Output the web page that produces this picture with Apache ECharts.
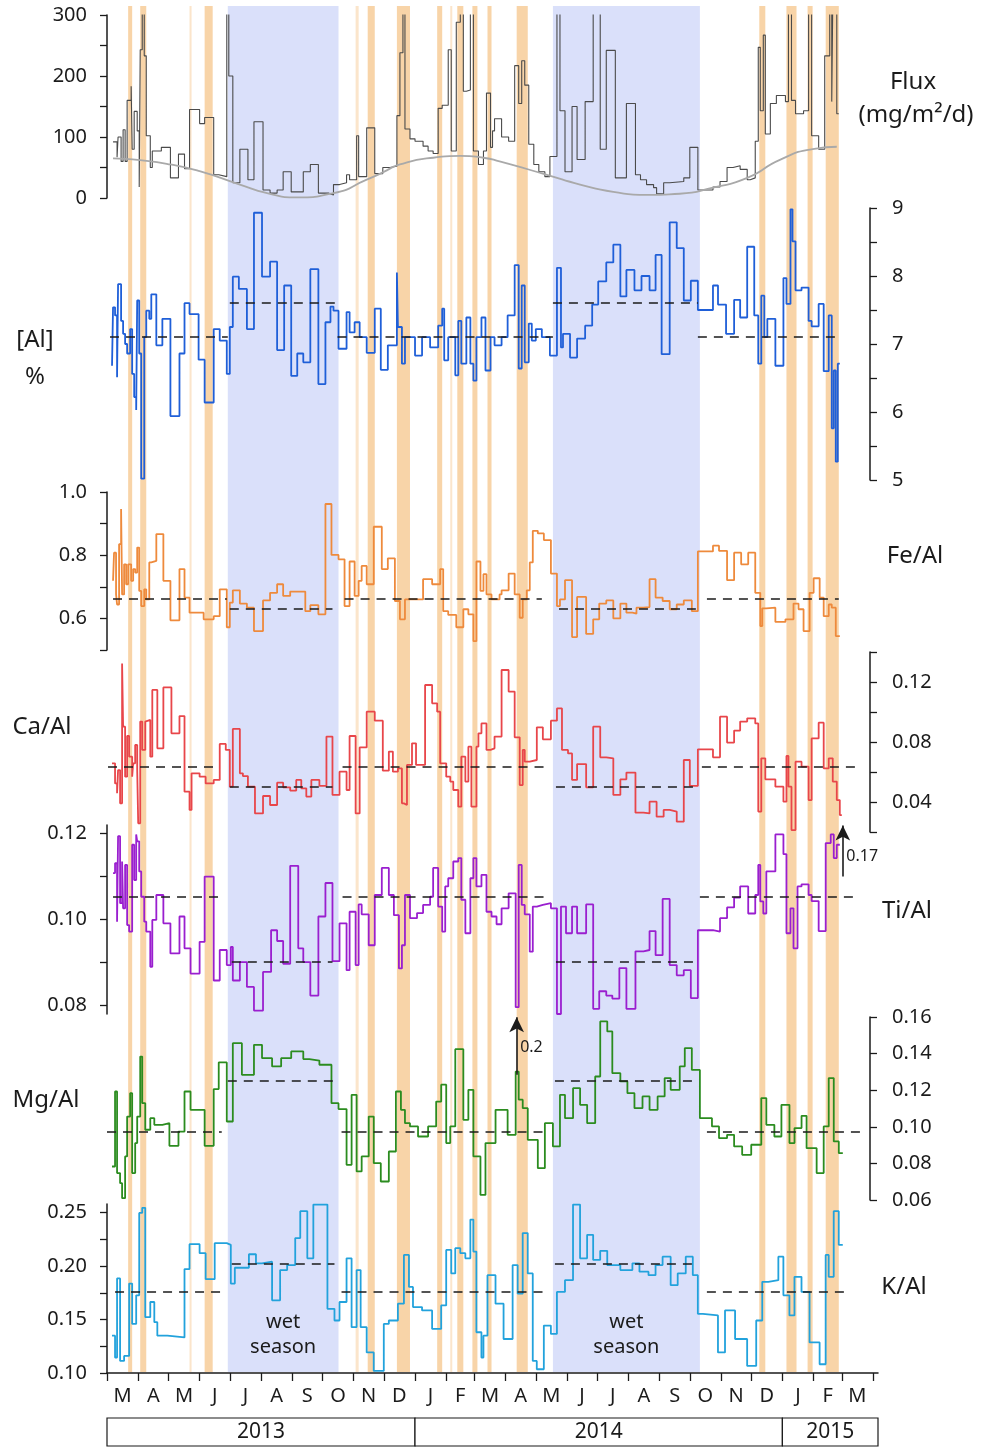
<!DOCTYPE html>
<html>
<head>
<meta charset="utf-8">
<script src="https://cdn.jsdelivr.net/npm/echarts@6/dist/echarts.min.js"></script>
<style>
  html, body { margin: 0; padding: 0; background: #fff; }
  #main { width: 982px; height: 1448px; }
</style>
</head>
<body>
<div id="main"></div>
<script>
// x values are days counted from 1 March 2013; each point holds its value until the next one
const fluxData = [[6,92],[10,67],[11,100],[14,60],[16,112],[18,60],[20,160],[24,183],[25,80],[27,142],[30,110],[32,18],[33,243],[35,320],[37,233],[39,102],[43,50],[45,77],[54,83],[63,33],[71,72],[77,48],[82,145],[92,122],[97,132],[106,38],[111,35],[119,320],[121,200],[125,25],[132,80],[140,30],[146,125],[155,13],[162,8],[169,13],[175,43],[183,10],[195,43],[202,55],[210,8],[220,5],[225,22],[231,25],[238,38],[241,30],[248,102],[250,35],[258,115],[266,40],[274,50],[281,52],[288,135],[291,238],[294,320],[296,113],[301,97],[306,93],[314,85],[319,77],[324,73],[329,147],[333,152],[339,243],[342,77],[347,288],[351,320],[354,175],[357,177],[361,320],[364,77],[369,55],[374,77],[377,172],[381,83],[383,110],[385,130],[392,100],[399,93],[405,217],[409,155],[412,225],[415,185],[419,88],[424,55],[429,43],[435,35],[440,68],[447,320],[450,143],[455,43],[462,150],[467,63],[475,158],[483,320],[490,80],[496,242],[505,33],[516,155],[525,38],[530,30],[536,22],[543,17],[546,7],[553,25],[559,27],[573,33],[579,83],[587,13],[602,18],[609,27],[616,50],[622,53],[629,47],[636,30],[639,33],[644,93],[647,247],[649,143],[652,267],[654,105],[659,155],[665,168],[674,158],[677,320],[680,160],[684,138],[692,143],[697,320],[700,102],[707,80],[713,233],[718,320],[720,158],[721,320],[725,138],[727,138]];
const fluxTrend = [[6,65],[33,62],[63,55],[92,44],[132,22],[159,8],[189,1],[225,8],[258,30],[274,42],[291,55],[324,66],[351,69],[374,66],[390,60],[437,38],[470,22],[503,10],[536,5],[569,7],[602,17],[636,33],[669,63],[701,80],[725,84]];

const alData = [[5,6.68],[6,7.54],[8,7.42],[10,6.51],[11,7.88],[14,7.34],[16,7.15],[18,7.0],[20,6.86],[23,7.22],[25,6.56],[27,6.22],[29,6.03],[30,7.64],[32,6.86],[34,5.02],[37,7.1],[39,7.49],[42,7.37],[44,7.73],[49,6.98],[55,7.37],[63,5.94],[72,6.86],[77,7.6],[82,7.44],[91,6.77],[97,6.14],[106,7.22],[112,7.05],[119,6.56],[122,7.25],[125,7.99],[131,7.81],[139,7.22],[146,8.93],[154,7.99],[162,8.21],[169,6.91],[176,7.86],[183,6.53],[189,6.86],[195,6.73],[202,8.1],[210,6.41],[217,7.32],[222,7.55],[225,7.49],[230,6.93],[238,7.47],[241,7.17],[246,7.32],[251,7.1],[258,6.87],[266,7.52],[272,6.62],[279,6.98],[288,8.05],[289,7.25],[293,6.71],[296,7.1],[306,6.83],[313,7.1],[321,6.95],[329,7.27],[333,7.52],[335,6.76],[339,7.1],[346,6.54],[349,7.34],[352,6.71],[357,7.39],[361,6.71],[364,6.46],[367,7.1],[372,7.39],[376,6.61],[381,7.1],[385,6.98],[392,7.1],[398,7.42],[405,8.16],[409,6.64],[412,7.86],[415,6.73],[419,7.3],[422,7.05],[426,7.22],[432,7.1],[440,6.83],[447,8.12],[451,6.95],[453,7.15],[460,6.8],[467,7.08],[475,7.27],[482,7.58],[488,7.92],[496,8.2],[503,8.46],[510,7.7],[516,8.09],[524,7.79],[531,8.0],[539,7.79],[545,8.31],[551,6.85],[559,8.79],[566,8.41],[573,7.64],[580,7.93],[587,7.5],[602,7.86],[607,7.58],[615,7.15],[623,7.65],[629,7.39],[636,8.43],[643,7.42],[647,6.71],[650,7.71],[653,7.1],[656,7.37],[664,6.68],[672,7.97],[675,7.59],[679,8.98],[681,8.51],[684,7.79],[690,7.83],[697,7.34],[700,7.26],[707,7.59],[712,6.6],[717,7.42],[720,5.76],[722,6.61],[724,5.27],[726,6.71],[728,6.71]];

const feData = [[6,0.719],[7,0.808],[9,0.676],[10,0.644],[12,0.835],[14,0.946],[15,0.676],[17,0.771],[19,0.708],[21,0.771],[24,0.719],[26,0.756],[28,0.745],[30,0.824],[32,0.687],[34,0.639],[37,0.692],[39,0.66],[42,0.777],[44,0.782],[49,0.867],[56,0.719],[63,0.594],[72,0.756],[77,0.666],[82,0.618],[96,0.597],[106,0.607],[112,0.692],[119,0.572],[122,0.65],[125,0.689],[132,0.647],[139,0.634],[146,0.56],[155,0.657],[162,0.681],[169,0.708],[175,0.671],[182,0.685],[197,0.623],[202,0.642],[210,0.613],[217,0.962],[223,0.801],[230,0.787],[236,0.639],[241,0.78],[246,0.671],[250,0.719],[253,0.766],[258,0.708],[265,0.89],[273,0.756],[279,0.79],[286,0.655],[291,0.597],[296,0.66],[314,0.724],[323,0.708],[331,0.756],[334,0.623],[339,0.611],[347,0.572],[354,0.629],[359,0.613],[364,0.528],[367,0.78],[371,0.687],[374,0.74],[377,0.676],[382,0.66],[390,0.676],[392,0.689],[399,0.742],[405,0.676],[410,0.602],[413,0.66],[417,0.689],[420,0.777],[423,0.877],[428,0.869],[434,0.848],[441,0.742],[447,0.639],[450,0.66],[455,0.721],[462,0.541],[467,0.668],[476,0.551],[483,0.597],[489,0.647],[496,0.657],[503,0.6],[510,0.647],[516,0.618],[522,0.615],[526,0.634],[533,0.636],[539,0.724],[545,0.666],[552,0.655],[559,0.629],[566,0.644],[573,0.657],[581,0.623],[587,0.812],[602,0.83],[608,0.814],[616,0.721],[623,0.808],[630,0.771],[637,0.808],[644,0.681],[649,0.576],[651,0.632],[655,0.634],[664,0.589],[674,0.597],[682,0.647],[687,0.629],[692,0.56],[698,0.681],[702,0.727],[708,0.666],[712,0.607],[717,0.644],[720,0.634],[724,0.544],[728,0.544]];

const caData = [[5,0.0658],[8,0.0524],[10,0.0458],[11,0.0613],[13,0.0391],[15,0.1324],[16,0.0902],[18,0.0569],[20,0.084],[22,0.0702],[25,0.0569],[26,0.0658],[28,0.078],[30,0.0613],[31,0.0258],[33,0.0936],[35,0.0747],[38,0.0936],[39,0.0947],[43,0.0702],[45,0.1147],[50,0.0758],[56,0.1164],[64,0.0858],[72,0.0973],[77,0.0469],[82,0.0347],[84,0.0591],[92,0.0569],[98,0.0524],[106,0.0547],[112,0.0787],[118,0.0747],[122,0.0502],[125,0.0887],[132,0.0591],[135,0.0573],[140,0.0502],[147,0.0324],[155,0.044],[162,0.038],[169,0.0529],[175,0.0498],[182,0.0476],[188,0.0547],[193,0.0491],[198,0.0436],[203,0.0547],[211,0.0507],[218,0.0836],[224,0.0447],[231,0.0602],[238,0.048],[241,0.084],[247,0.0324],[251,0.0764],[258,0.1002],[266,0.0942],[274,0.0609],[280,0.0736],[284,0.0602],[289,0.0624],[293,0.0391],[295,0.038],[298,0.0647],[303,0.0791],[307,0.0647],[316,0.118],[323,0.1058],[328,0.1002],[331,0.0658],[337,0.0569],[341,0.0536],[344,0.048],[349,0.0369],[352,0.0702],[356,0.0536],[359,0.0769],[362,0.0369],[367,0.0769],[369,0.0858],[372,0.0924],[377,0.0747],[381,0.0758],[385,0.0836],[392,0.128],[399,0.1136],[405,0.0831],[410,0.0513],[413,0.0747],[415,0.0669],[420,0.068],[427,0.0898],[433,0.0818],[441,0.0942],[447,0.1024],[452,0.0747],[458,0.0724],[462,0.0547],[467,0.0653],[476,0.0498],[483,0.0902],[490,0.0698],[496,0.0691],[503,0.0447],[510,0.0551],[516,0.0596],[525,0.0329],[533,0.0324],[539,0.0402],[546,0.0302],[553,0.0347],[559,0.0336],[566,0.0269],[573,0.068],[579,0.0507],[587,0.0751],[602,0.0698],[609,0.0969],[616,0.0796],[623,0.0876],[629,0.0936],[636,0.0958],[644,0.0924],[647,0.0336],[650,0.0691],[654,0.0551],[664,0.0502],[672,0.0402],[675,0.0707],[677,0.0502],[680,0.0213],[684,0.0669],[690,0.0636],[697,0.0413],[700,0.0824],[707,0.0929],[712,0.0624],[717,0.0691],[721,0.0536],[725,0.0413],[728,0.0313],[730,0.0313]];

const tiData = [[6,0.1108],[8,0.1131],[10,0.0995],[11,0.1194],[13,0.1038],[15,0.1135],[16,0.1026],[18,0.1127],[20,0.0987],[22,0.0972],[25,0.1174],[27,0.1092],[29,0.1198],[30,0.1182],[32,0.1112],[34,0.1053],[37,0.0995],[39,0.0972],[43,0.089],[45,0.0999],[49,0.1057],[56,0.0991],[63,0.0921],[72,0.1007],[77,0.0933],[83,0.0874],[92,0.0948],[97,0.11],[106,0.0858],[112,0.0929],[119,0.0894],[123,0.0936],[125,0.0858],[132,0.0901],[139,0.0843],[146,0.0788],[155,0.0878],[163,0.0975],[169,0.095],[175,0.0897],[182,0.1125],[190,0.0933],[195,0.0901],[202,0.0823],[210,0.1007],[217,0.1085],[224,0.0903],[231,0.0991],[238,0.0882],[241,0.1018],[247,0.0894],[250,0.1035],[253,0.1012],[260,0.094],[266,0.1057],[273,0.112],[280,0.1057],[285,0.101],[290,0.0886],[293,0.094],[296,0.1057],[301,0.1003],[308,0.1015],[314,0.1034],[321,0.1053],[324,0.112],[329,0.103],[333,0.0972],[336,0.1077],[339,0.1096],[344,0.1135],[349,0.1143],[352,0.1046],[356,0.0968],[361,0.1096],[364,0.1143],[367,0.1077],[372,0.1104],[377,0.1018],[382,0.1007],[387,0.0989],[392,0.1026],[399,0.1061],[406,0.0796],[409,0.1127],[412,0.1034],[415,0.1012],[420,0.0925],[423,0.103],[427,0.1034],[433,0.1038],[441,0.1026],[447,0.078],[451,0.103],[456,0.0968],[462,0.103],[467,0.0968],[476,0.1035],[483,0.0792],[489,0.0833],[496,0.0823],[502,0.0816],[509,0.0887],[516,0.0792],[525,0.0926],[533,0.0929],[539,0.0973],[545,0.0917],[552,0.1048],[559,0.0894],[566,0.087],[573,0.0882],[580,0.0817],[587,0.0975],[602,0.0972],[609,0.1003],[616,0.1028],[623,0.1051],[629,0.1077],[637,0.1014],[644,0.1057],[647,0.1127],[649,0.1042],[652,0.1014],[655,0.1112],[664,0.1198],[672,0.1152],[675,0.0968],[679,0.1026],[682,0.0933],[686,0.1077],[690,0.1082],[697,0.1057],[700,0.1043],[707,0.0973],[714,0.1178],[719,0.1198],[722,0.1143],[725,0.1174],[728,0.1174]];

const mgData = [[5,0.0783],[8,0.1193],[10,0.0747],[13,0.0692],[15,0.061],[18,0.0838],[20,0.1056],[23,0.1184],[25,0.0747],[28,0.0911],[30,0.1056],[33,0.1384],[35,0.1129],[38,0.0984],[43,0.1047],[47,0.1011],[55,0.102],[62,0.0896],[71,0.0974],[77,0.1193],[83,0.1093],[97,0.0896],[106,0.1206],[111,0.1352],[119,0.1029],[125,0.1457],[134,0.1284],[146,0.1448],[154,0.1375],[164,0.133],[173,0.1375],[183,0.1412],[195,0.137],[201,0.1362],[211,0.1339],[223,0.1129],[230,0.1097],[238,0.0792],[243,0.1175],[248,0.0756],[253,0.0838],[260,0.1056],[265,0.0801],[272,0.0701],[280,0.0865],[287,0.1193],[292,0.1093],[296,0.102],[301,0.1002],[309,0.0947],[319,0.1002],[327,0.1138],[332,0.123],[337,0.0911],[341,0.1002],[346,0.1424],[354,0.1038],[359,0.1202],[364,0.0838],[371,0.0628],[376,0.0911],[386,0.1093],[398,0.0956],[406,0.1302],[409,0.1148],[413,0.1102],[418,0.0929],[428,0.0774],[435,0.102],[443,0.0893],[450,0.1175],[455,0.1047],[463,0.1211],[470,0.112],[477,0.102],[485,0.1275],[490,0.1576],[497,0.1521],[502,0.1293],[510,0.1248],[517,0.1184],[524,0.1102],[532,0.1166],[539,0.1093],[547,0.1166],[554,0.1266],[560,0.1202],[569,0.133],[574,0.143],[581,0.1311],[589,0.1047],[601,0.1002],[608,0.0938],[616,0.0956],[623,0.0893],[631,0.0847],[640,0.0902],[650,0.1157],[655,0.1011],[663,0.0947],[670,0.112],[678,0.0911],[683,0.0993],[690,0.106],[695,0.0883],[705,0.0747],[712,0.1002],[717,0.1266],[722,0.092],[727,0.0856],[731,0.0856]];

const kData = [[5,0.1349],[8,0.1145],[10,0.1884],[13,0.1113],[17,0.116],[22,0.1836],[25,0.1459],[29,0.1726],[32,0.2497],[35,0.2544],[38,0.1522],[43,0.1664],[47,0.1475],[50,0.1349],[60,0.1333],[77,0.1972],[82,0.2204],[92,0.212],[98,0.1877],[107,0.2214],[119,0.2198],[123,0.1836],[127,0.1984],[141,0.211],[148,0.2025],[154,0.2041],[164,0.1679],[172,0.1962],[179,0.2009],[187,0.2261],[192,0.2513],[199,0.2072],[205,0.2575],[219,0.16],[226,0.1491],[231,0.1664],[238,0.2072],[243,0.1428],[248,0.1962],[252,0.1428],[258,0.1192],[265,0.1019],[275,0.1459],[280,0.1491],[289,0.1648],[295,0.2104],[300,0.1805],[304,0.1616],[313,0.1585],[323,0.1412],[332,0.1632],[337,0.2151],[342,0.1931],[346,0.2167],[351,0.212],[356,0.2072],[361,0.2434],[364,0.2135],[367,0.1381],[372,0.1145],[374,0.1349],[378,0.1915],[386,0.1648],[394,0.1318],[403,0.2009],[408,0.1742],[413,0.2308],[418,0.1931],[423,0.1113],[427,0.1035],[434,0.1443],[441,0.1365],[447,0.1758],[455,0.1868],[463,0.2575],[470,0.2072],[477,0.2292],[483,0.2057],[490,0.2142],[497,0.2009],[510,0.1962],[522,0.2025],[529,0.1947],[538,0.1915],[545,0.2009],[552,0.2088],[560,0.1821],[567,0.1931],[575,0.2088],[582,0.1915],[587,0.1553],[592,0.1538],[607,0.1192],[614,0.1585],[624,0.1318],[636,0.1066],[645,0.1491],[651,0.1852],[657,0.1868],[667,0.2088],[672,0.1726],[678,0.1538],[683,0.1899],[690,0.1758],[698,0.1286],[708,0.1082],[714,0.2104],[717,0.1899],[722,0.2513],[727,0.2198],[731,0.2198]];

// season means: [from day, to day, value]
const alMeans = [[3,120,7.1],[122,229,7.6],[229,443,7.1],[443,587,7.6],[587,727,7.1]];
const feMeans = [[6,119,0.663],[122,224,0.632],[236,432,0.663],[449,585,0.632],[596,727,0.663]];
const caMeans = [[1,112,0.0635],[122,224,0.050],[234,437,0.0635],[446,586,0.050],[591,748,0.0635]];
const tiMeans = [[6,114,0.1053],[124,224,0.0901],[234,437,0.1053],[446,587,0.0901],[589,745,0.1053]];
const mgMeans = [[0,114,0.0974],[120,225,0.1251],[233,438,0.0974],[445,586,0.1251],[596,752,0.0974]];
const kMeans = [[8,116,0.1758],[124,226,0.2025],[233,438,0.1758],[445,586,0.2025],[596,737,0.1758]];

const wetSeasons = [[120,230],[443,589]];
const rainEvents = [[21,25],[33,39],[82,84],[97,105],[247,250],[259,266],[288,301],[328,333],[341,343],[348,354],[363,368],[378,382],[407,418],[648,654],[675,685],[696,701],[714,727]];

const monthLetters = ['M','A','M','J','J','A','S','O','N','D','J','F','M','A','M','J','J','A','S','O','N','D','J','F','M'];
const yearNames = ['2013', '2014', '2015'];
const yearStarts = [0, 306, 671, 766];

const FONT = 'Noto Sans';
const INK = '#1b1b1b';
const BLUE_BAND = '#dae0fa';
const ORANGE_BAND = '#f8d4a8';

const t0 = Date.UTC(2013, 2, 1);
const monthStarts = [];
for (let i = 0; i <= monthLetters.length; i++) {
  monthStarts.push((Date.UTC(2013, 2 + i, 1) - t0) / 864e5);
}
const monthMids = monthLetters.map((m, i) => (monthStarts[i] + monthStarts[i + 1]) / 2);

let myChart = echarts.init(document.getElementById('main'), null, { renderer: 'canvas' });

const LEFT = 107, WIDTH = 763, XMAX = 758;
const grids = [
  { left: LEFT, top: 6, width: WIDTH, height: 1366 },   // background bands
  { left: LEFT, top: 15, width: WIDTH, height: 183 },   // flux
  { left: LEFT, top: 208, width: WIDTH, height: 272 },  // Al
  { left: LEFT, top: 492, width: WIDTH, height: 158 },  // Fe/Al
  { left: LEFT, top: 652, width: WIDTH, height: 180 },  // Ca/Al
  { left: LEFT, top: 825, width: WIDTH, height: 189 },  // Ti/Al
  { left: LEFT, top: 1017, width: WIDTH, height: 183 }, // Mg/Al
  { left: LEFT, top: 1204, width: 771, height: 169 },   // K/Al
  { left: LEFT, top: 1418, width: 771, height: 28 }     // years
];

const range = (a, b, step) => {
  const out = [];
  for (let v = a; v <= b + step / 1000; v += step) out.push(+v.toFixed(4));
  return out;
};

function yAxis(grid, min, max, position, ticks, labels, digits) {
  return {
    type: 'value', gridIndex: grid, min, max, position,
    axisLine: { show: true, onZero: false, lineStyle: { color: INK, width: 1.5 } },
    axisTick: { show: true, length: 7, lineStyle: { color: INK, width: 1.3 }, customValues: ticks },
    axisLabel: {
      show: true, customValues: labels, margin: position === 'right' ? 22 : 20,
      formatter: (v) => v.toFixed(digits),
      fontSize: 20, color: INK, fontFamily: FONT
    },
    splitLine: { show: false }
  };
}

const hiddenX = (i, max) => ({ type: 'value', gridIndex: i, min: 0, max, show: false });
const hiddenY = (i) => ({ type: 'value', gridIndex: i, min: 0, max: 1, show: false });

function meanLines(segs) {
  return segs.map(([a, b, v]) => [{ coord: [a, v] }, { coord: [b, v] }]);
}

// arrows mark samples that run off the top of a panel
function arrow(x, from, to) {
  return [
    { coord: [x, from], symbol: 'none', lineStyle: { type: 'solid', width: 1.6, color: INK } },
    { coord: [x, to], symbol: 'arrow', symbolSize: [11, 15] }
  ];
}

function stepSeries(i, data, color, means, extra) {
  return Object.assign({
    type: 'line', xAxisIndex: i, yAxisIndex: i, data, step: 'end',
    symbol: 'none', silent: true,
    lineStyle: { color, width: 1.8 },
    markLine: {
      silent: true, symbol: ['none', 'none'], label: { show: false },
      lineStyle: { color: INK, width: 1.5, type: [9, 7] },
      data: means ? meanLines(means) : []
    }
  }, extra || {});
}

function noteLabel(name, coord) {
  return {
    symbol: 'circle', symbolSize: 1, silent: true,
    itemStyle: { color: 'rgba(0,0,0,0)' },
    label: { show: true, position: 'right', distance: 3, formatter: '{b}', fontSize: 16, color: INK, fontFamily: FONT },
    data: [{ name, coord }]
  };
}

const bandAreas = wetSeasons.map(([a, b]) => [
  {
    name: 'wet\nseason', xAxis: a, itemStyle: { color: BLUE_BAND },
    label: { show: true, position: 'insideBottom', distance: 12, formatter: '{b}', fontSize: 20, lineHeight: 25, color: INK, fontFamily: FONT }
  },
  { xAxis: b }
]).concat(rainEvents.map(([a, b]) => [
  { xAxis: a, itemStyle: { color: ORANGE_BAND, opacity: b - a < 4 ? 0.6 : 1 } },
  { xAxis: b }
]));

const mgLine = stepSeries(6, mgData, '#2b8c1f', mgMeans, { clip: false });
mgLine.markLine.data.push(arrow(407, 0.1284, 0.1598));
mgLine.markPoint = noteLabel('0.2', [407, 0.1435]);

const tiLine = stepSeries(5, tiData, '#9a1fcf', tiMeans, { clip: false });
tiLine.markLine.data.push(arrow(731, 0.110, 0.1219));
tiLine.markPoint = noteLabel('0.17', [731, 0.1147]);

const sideText = (text, x, y) => ({
  type: 'text', x, y, silent: true,
  style: { text, fontSize: 24, fontFamily: FONT, fill: INK, align: 'center', verticalAlign: 'middle' }
});

let option = {
  animation: false,
  backgroundColor: '#fff',
  grid: grids,
  xAxis: [
    hiddenX(0, XMAX), hiddenX(1, XMAX), hiddenX(2, XMAX), hiddenX(3, XMAX),
    hiddenX(4, XMAX), hiddenX(5, XMAX), hiddenX(6, XMAX),
    {
      type: 'value', gridIndex: 7, min: 0, max: 766,
      axisLine: { show: true, onZero: false, lineStyle: { color: INK, width: 1.5 } },
      axisTick: { show: true, length: 8, lineStyle: { color: INK, width: 1.3 }, customValues: monthStarts },
      axisLabel: {
        show: true, customValues: monthMids, margin: 13,
        formatter: (v) => { const k = monthMids.indexOf(v); return k >= 0 ? monthLetters[k] : ''; },
        fontSize: 20, color: INK, fontFamily: FONT
      },
      splitLine: { show: false }
    },
    hiddenX(8, 766)
  ],
  yAxis: [
    hiddenY(0),
    yAxis(1, 0, 300, 'left', range(0, 300, 50), [0, 100, 200, 300], 0),
    yAxis(2, 5, 9, 'right', range(5, 9, 0.5), [5, 6, 7, 8, 9], 0),
    yAxis(3, 0.5, 1.0, 'left', range(0.5, 1.0, 0.1), [0.6, 0.8, 1.0], 1),
    yAxis(4, 0.02, 0.14, 'right', range(0.02, 0.14, 0.02), [0.04, 0.08, 0.12], 2),
    yAxis(5, 0.078, 0.122, 'left', range(0.08, 0.12, 0.01), [0.08, 0.10, 0.12], 2),
    yAxis(6, 0.06, 0.16, 'right', range(0.06, 0.16, 0.02), range(0.06, 0.16, 0.02), 2),
    yAxis(7, 0.10, 0.258, 'left', range(0.10, 0.25, 0.025), [0.10, 0.15, 0.20, 0.25], 2),
    hiddenY(8)
  ],
  series: [
    {
      type: 'line', xAxisIndex: 0, yAxisIndex: 0, data: [[0, 0]], z: 1,
      symbol: 'none', silent: true, lineStyle: { opacity: 0 },
      markArea: { silent: true, label: { show: false }, data: bandAreas }
    },
    stepSeries(1, fluxData, '#4a4a4a', null, { lineStyle: { color: '#4a4a4a', width: 1.1 } }),
    {
      type: 'line', xAxisIndex: 1, yAxisIndex: 1, data: fluxTrend, smooth: 0.6,
      symbol: 'none', silent: true, lineStyle: { color: '#a9a9a9', width: 1.8 }
    },
    stepSeries(2, alData, '#1f5fd8', alMeans),
    stepSeries(3, feData, '#ee8a3c', feMeans),
    stepSeries(4, caData, '#e8464a', caMeans),
    tiLine,
    mgLine,
    stepSeries(7, kData, '#22a2dc', kMeans),
    {
      type: 'line', xAxisIndex: 8, yAxisIndex: 8, data: [[0, 0]],
      symbol: 'none', silent: true, lineStyle: { opacity: 0 },
      markArea: {
        silent: true,
        itemStyle: { color: '#fff', borderColor: INK, borderWidth: 1.2 },
        label: { show: true, position: 'inside', formatter: '{b}', fontSize: 21, color: INK, fontFamily: FONT },
        data: yearNames.map((n, i) => [{ name: n, xAxis: yearStarts[i] }, { xAxis: yearStarts[i + 1] }])
      }
    }
  ],
  graphic: [
    sideText('Flux', 913, 82),
    sideText('(mg/m²/d)', 916, 115),
    sideText('[Al]', 35, 340),
    sideText('%', 35, 377),
    sideText('Fe/Al', 915, 556),
    sideText('Ca/Al', 42, 727),
    sideText('Ti/Al', 907, 911),
    sideText('Mg/Al', 46, 1100),
    sideText('K/Al', 904, 1287)
  ]
};

myChart.setOption(option);
</script>
</body>
</html>
